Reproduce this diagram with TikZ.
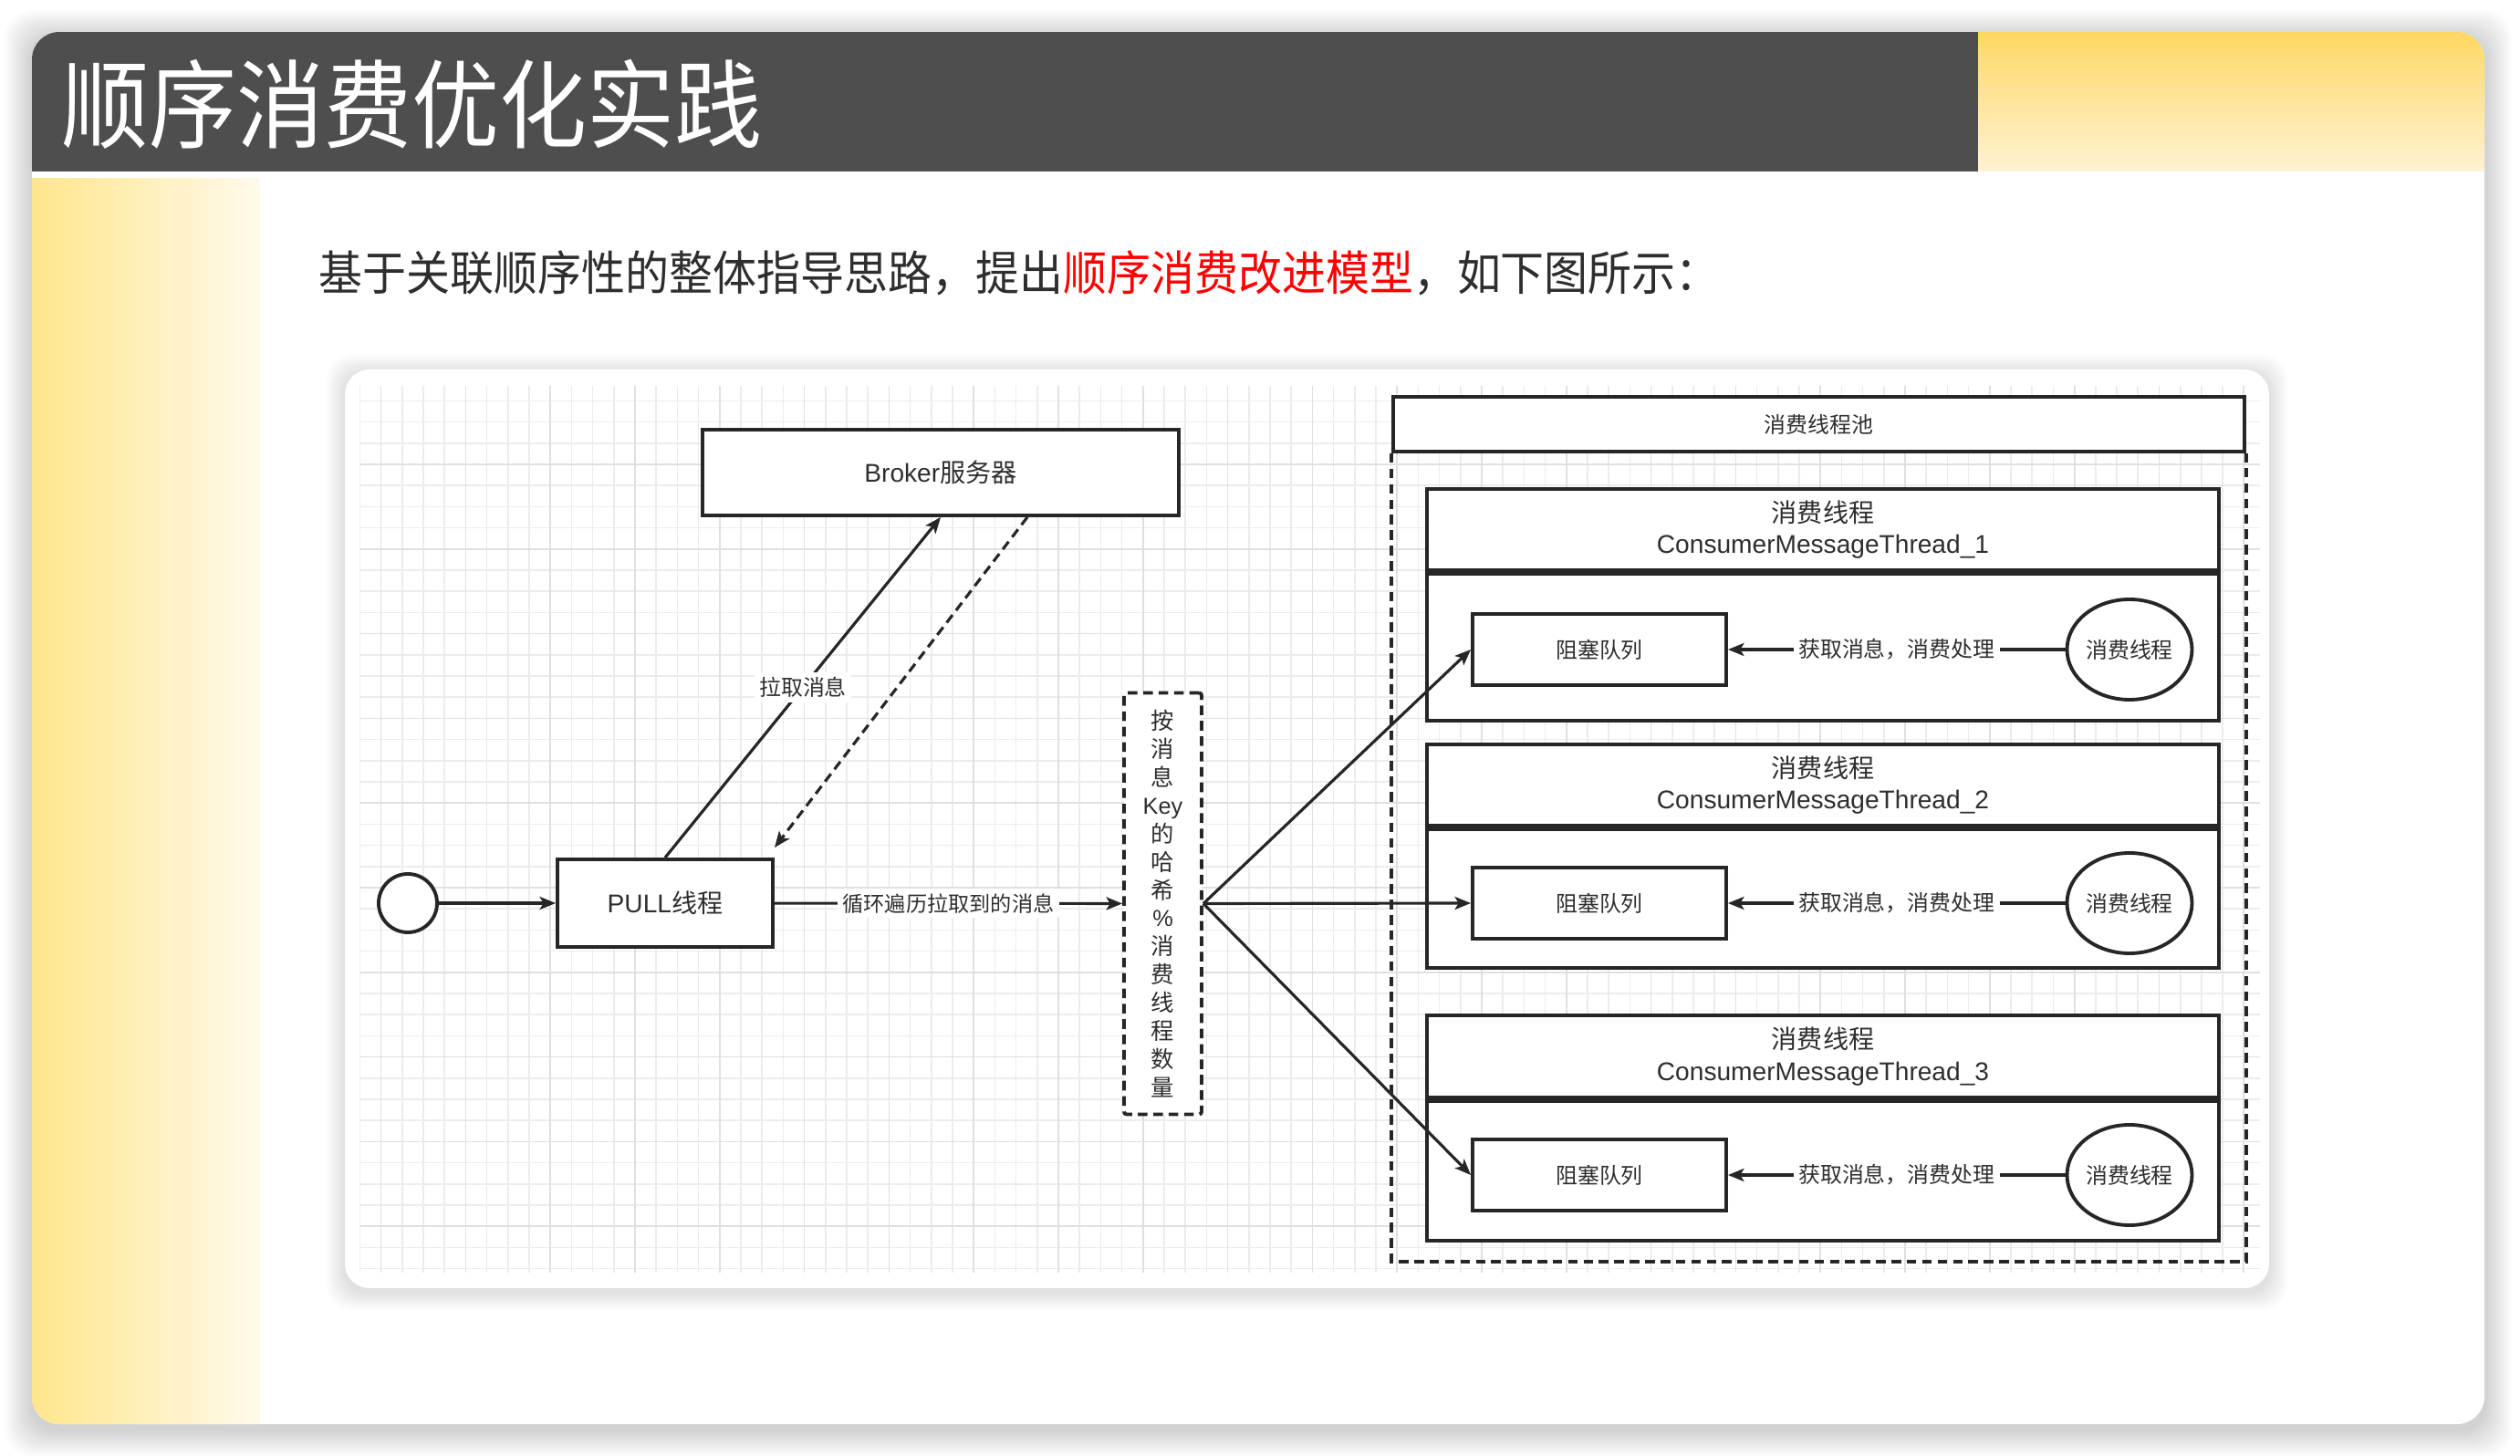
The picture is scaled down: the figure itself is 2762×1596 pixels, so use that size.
\documentclass[tikz,border=0pt]{standalone}
\usepackage{fontspec}
\setmainfont{Noto Sans CJK SC}
\newfontfamily\latinfont{Liberation Sans}
\usetikzlibrary{arrows.meta,shapes.geometric,positioning}

\newcommand{\en}[1]{{\latinfont #1}}

\definecolor{headgray}{HTML}{4E4E4E}
\definecolor{sunyellow}{HTML}{FFD863}
\definecolor{paleyellow}{HTML}{FFF2D4}
\definecolor{stripyellow}{HTML}{FFE68C}
\definecolor{stripfade}{HTML}{FFFAEC}
\definecolor{textgray}{HTML}{2E2E2E}
\definecolor{ink}{HTML}{262626}
\definecolor{gridminor}{HTML}{ECECEC}
\definecolor{gridmajor}{HTML}{E0E0E0}

\begin{document}
\begin{tikzpicture}[x=0.1mm, y=-0.1mm,
  box/.style={draw=ink, line width=1.1pt, fill=white, inner sep=0pt, text=textgray},
  big/.style={font=\fontsize{8pt}{9.9pt}\selectfont},
  small/.style={font=\fontsize{6.8pt}{8pt}\selectfont},
  lbl/.style={small, fill=white, inner sep=1.5pt, text=textgray},
  arr/.style={draw=ink, line width=0.9pt, -{Stealth[length=5pt, width=4pt, inset=1.2pt]}},
  dashline/.style={dash pattern=on 3pt off 1.8pt},
  gridline/.style={draw=gridminor, line width=0.5pt},
  gridbold/.style={draw=gridmajor, line width=0.5pt}]
  \useasboundingbox (0,0) rectangle (2762,1596);
  \fill[white] (0,0) rectangle (2762,1596);

  % soft shadow round the card
  \foreach \s in {2,4,...,30}
    \fill[black, opacity=0.01, rounded corners=3mm] ({35-\s},{41-\s}) rectangle ({2723+\s},{1567+\s});
  \fill[white, rounded corners=3mm] (35,35) rectangle (2723,1561);

  % header band, yellow corner and left strip
  \begin{scope}
    \clip[rounded corners=3mm] (35,35) rectangle (2723,1561);
    \fill[headgray] (35,35) rectangle (2168,188);
    \shade[top color=sunyellow, bottom color=paleyellow] (2168,35) rectangle (2723,188);
    \shade[left color=stripyellow, right color=stripfade] (35,196) rectangle (285,1561);
  \end{scope}
  \node[anchor=west, text=white, inner sep=0pt, font=\fontsize{27.3pt}{30pt}\selectfont] (title) at (67,114)
    {\scalebox{1}[1.1]{顺序消费优化实践}};
  \node[anchor=west, text=textgray, inner sep=0pt, font=\fontsize{13.65pt}{16pt}\selectfont] (intro) at (349,299)
    {\scalebox{1}[1.08]{基于关联顺序性的整体指导思路，提出\textcolor{red}{顺序消费改进模型}，如下图所示：}};

  % diagram panel with grid
  \foreach \s in {2,4,...,20}
    \fill[black, opacity=0.012, rounded corners=2.7mm] ({378-\s},{409-\s}) rectangle ({2487+\s},{1416+\s});
  \fill[white, rounded corners=2.7mm] (378,405) rectangle (2487,1412);
  \foreach \k in {-5,...,84}
    \draw[gridline] ({510.4+23.2*\k},423) -- ({510.4+23.2*\k},1395);
  \foreach \j in {-3,...,38}
    \draw[gridline] (395,{509+23.2*\j}) -- (2477,{509+23.2*\j});
  \foreach \k in {-1,...,21}
    \draw[gridbold] ({510.4+92.8*\k},423) -- ({510.4+92.8*\k},1395);
  \foreach \j in {0,...,9}
    \draw[gridbold] (395,{509+92.8*\j}) -- (2477,{509+92.8*\j});

  % pull side
  \node[draw=ink, line width=1.1pt, fill=white, circle, minimum size=6.4mm, inner sep=0pt] (start) at (447,990) {};
  \node[box, big, minimum width=23.6mm, minimum height=9.6mm] (pull) at (729,990) {\en{PULL}线程};
  \node[box, big, minimum width=52.2mm, minimum height=9.4mm] (broker) at (1031,518) {\en{Broker}服务器};
  \node[box, dashline, rounded corners=0.8pt, minimum width=8.5mm, minimum height=46.2mm, align=center,
    font=\fontsize{7.2pt}{8.8pt}\selectfont] (hash) at (1274.5,990.5)
    {按\\消\\息\\\en{Key}\\的\\哈\\希\\\en{\%}\\消\\费\\线\\程\\数\\量};
  \draw[arr] (start) -- (pull);
  \draw[arr] (pull.north) -- node[lbl]{拉取消息} (broker.south);
  \draw[arr, dashline] ([xshift=9.5mm]broker.south) -- ([yshift=1.1mm]pull.north east);
  \draw[arr] (pull) -- node[lbl, font=\fontsize{6.6pt}{8pt}\selectfont]{循环遍历拉取到的消息} (hash);

  % consumer thread pool
  \node[box, small, minimum width=93.3mm, minimum height=6mm] (poolhead) at (1993.5,465) {消费线程池};
  \draw[draw=ink, line width=1.1pt, dashline] (poolhead.south west) -- ++(0,886) -| (poolhead.south east);
  \foreach \i/\hy/\hh/\bh/\qy in {1/580.5/8.9/16.1/712, 2/860.5/8.9/15.2/990, 3/1158/9.0/15.3/1288} {
    \node[box, big, align=center, minimum width=86.8mm, minimum height=\hh mm] (head\i) at (1998,\hy)
      {消费线程\\\en{ConsumerMessageThread\_\i}};
    \node[box, minimum width=86.8mm, minimum height=\bh mm, below=0pt of head\i] (body\i) {};
    \node[box, small, minimum width=27.8mm, minimum height=7.8mm] (queue\i) at (1753,\qy) {阻塞队列};
    \node[box, small, ellipse, minimum width=13.7mm, minimum height=11mm] (worker\i) at (2334,\qy) {消费线程};
    \draw[arr] (worker\i) -- node[lbl]{获取消息，消费处理} (queue\i);
    \draw[arr] (hash.east) -- (queue\i.west);
  }
\end{tikzpicture}
\end{document}
